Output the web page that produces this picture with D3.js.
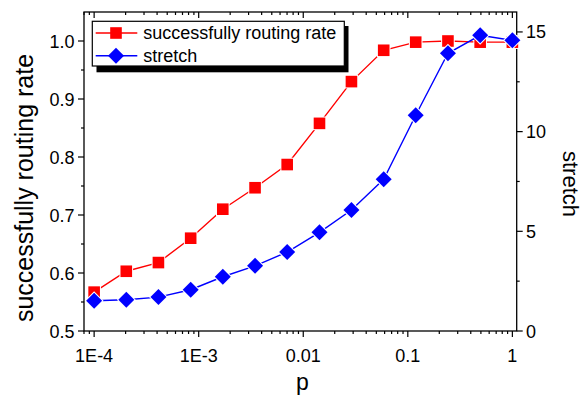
<!DOCTYPE html>
<html><head><meta charset="utf-8">
<script src="https://cdn.jsdelivr.net/npm/d3@7"></script>
<style>
html,body{margin:0;padding:0;background:#fff;}
text{font-family:"Liberation Sans",Arial,sans-serif;fill:#000;}
</style></head>
<body>
<svg id="chart" width="584" height="403"></svg>
<script>
// ---- data ----
const pValues = [1e-4, 2.03e-4, 4.12e-4, 8.38e-4, 1.70e-3, 3.46e-3, 7.02e-3, 0.0143, 0.0289, 0.0588, 0.119, 0.242, 0.492, 1];
const routingRate = [0.567, 0.603, 0.618, 0.660, 0.710, 0.747, 0.787, 0.858, 0.930, 0.984, 0.998, 1.0, 0.998, 0.998];
const stretchValues = [1.52, 1.57, 1.70, 2.07, 2.72, 3.27, 3.96, 4.95, 6.07, 7.61, 10.82, 13.93, 14.83, 14.58];
const xTickValues = [1e-4, 1e-3, 0.01, 0.1, 1];
const xTickLabels = ["1E-4", "1E-3", "0.01", "0.1", "1"];
const leftTickValues = [0.5, 0.6, 0.7, 0.8, 0.9, 1.0];
const leftTickLabels = ["0.5", "0.6", "0.7", "0.8", "0.9", "1.0"];
const leftMinorTicks = [0.55, 0.65, 0.75, 0.85, 0.95];
const rightTickValues = [0, 5, 10, 15];
const rightTickLabels = ["0", "5", "10", "15"];
const rightMinorTicks = [2.5, 7.5, 12.5];
const seriesNames = ["successfully routing rate", "stretch"];
const seriesColors = ["#ff0000", "#0000ff"];

// ---- layout ----
const L = 84, R = 516.7, T = 12, B = 331;
const svg = d3.select("#chart");
const x = d3.scaleLog().domain([8e-5, 1.1]).range([L, R]);
const yL = d3.scaleLinear().domain([0.5, 1.05]).range([B, T]);
const yR = d3.scaleLinear().domain([0, 16]).range([B, T]);

const axisColor = "#000";
const g = svg.append("g");

// frame
g.append("rect").attr("x", L).attr("y", T).attr("width", R - L).attr("height", B - T)
  .attr("fill", "none").attr("stroke", axisColor).attr("stroke-width", 1.3);

const isMajor = v => Math.abs(Math.log10(v) - Math.round(Math.log10(v))) < 1e-6;
const xAll = x.ticks().filter(v => v >= 8e-5 && v <= 1.1);

// bottom ticks (outward)
xAll.forEach(v => {
  const len = isMajor(v) ? 6 : 3;
  g.append("line").attr("x1", x(v)).attr("x2", x(v)).attr("y1", B).attr("y2", B + len)
    .attr("stroke", axisColor).attr("stroke-width", 1.2);
  g.append("line").attr("x1", x(v)).attr("x2", x(v)).attr("y1", T).attr("y2", T + len)
    .attr("stroke", axisColor).attr("stroke-width", 1.2);
});
xTickValues.forEach((v, i) => {
  g.append("text").attr("x", x(v)).attr("y", 362).attr("text-anchor", "middle")
    .attr("font-size", 18).text(xTickLabels[i]);
});

// left axis
leftTickValues.forEach((v, i) => {
  g.append("line").attr("x1", L - 6).attr("x2", L).attr("y1", yL(v)).attr("y2", yL(v))
    .attr("stroke", axisColor).attr("stroke-width", 1.2);
  g.append("text").attr("x", 74.5).attr("y", yL(v) + 6.5).attr("text-anchor", "end")
    .attr("font-size", 18).text(leftTickLabels[i]);
});
leftMinorTicks.forEach(v => {
  g.append("line").attr("x1", L - 3).attr("x2", L).attr("y1", yL(v)).attr("y2", yL(v))
    .attr("stroke", axisColor).attr("stroke-width", 1.2);
});

// right axis
rightTickValues.forEach((v, i) => {
  g.append("line").attr("x1", R).attr("x2", R + 6).attr("y1", yR(v)).attr("y2", yR(v))
    .attr("stroke", axisColor).attr("stroke-width", 1.2);
  g.append("text").attr("x", 526).attr("y", yR(v) + 6.5).attr("text-anchor", "start")
    .attr("font-size", 18).text(rightTickLabels[i]);
});
rightMinorTicks.forEach(v => {
  g.append("line").attr("x1", R).attr("x2", R + 3).attr("y1", yR(v)).attr("y2", yR(v))
    .attr("stroke", axisColor).attr("stroke-width", 1.2);
});

// axis titles
g.append("text").attr("transform", "translate(33,188) rotate(-90)").attr("text-anchor", "middle")
  .attr("font-size", 25).text("successfully routing rate");
g.append("text").attr("transform", "translate(563,184) rotate(90)").attr("text-anchor", "middle")
  .attr("font-size", 22).text("stretch");
g.append("text").attr("x", 302.5).attr("y", 390).attr("text-anchor", "middle")
  .attr("font-size", 23).text("p");

// series
const diamond = "M0,-8L8,0L0,8L-8,0Z";
const rateData = pValues.map((p, i) => [p, routingRate[i]]);
const strData = pValues.map((p, i) => [p, stretchValues[i]]);

g.append("path").datum(rateData)
  .attr("d", d3.line().x(d => x(d[0])).y(d => yL(d[1])))
  .attr("fill", "none").attr("stroke", seriesColors[0]).attr("stroke-width", 1.4);
g.selectAll(".sq").data(rateData).enter().append("rect")
  .attr("x", d => x(d[0]) - 5.8).attr("y", d => yL(d[1]) - 5.8)
  .attr("width", 11.6).attr("height", 11.6)
  .attr("fill", seriesColors[0]).attr("stroke", "#fff").attr("stroke-width", 2)
  .style("paint-order", "stroke");

g.append("path").datum(strData)
  .attr("d", d3.line().x(d => x(d[0])).y(d => yR(d[1])))
  .attr("fill", "none").attr("stroke", seriesColors[1]).attr("stroke-width", 1.4);
g.selectAll(".dm").data(strData).enter().append("path")
  .attr("d", diamond).attr("transform", d => `translate(${x(d[0])},${yR(d[1])})`)
  .attr("fill", seriesColors[1]).attr("stroke", "#fff").attr("stroke-width", 2)
  .style("paint-order", "stroke");

// legend
const lg = svg.append("g");
lg.append("rect").attr("x", 96.5).attr("y", 26).attr("width", 252).attr("height", 46.3).attr("fill", "#000");
lg.append("rect").attr("x", 92.3).attr("y", 21.3).attr("width", 252).attr("height", 44.7)
  .attr("fill", "#fff").attr("stroke", "#000").attr("stroke-width", 1.2);
const rowsY = [33, 55.7];
seriesNames.forEach((name, i) => {
  const cy = rowsY[i];
  lg.append("line").attr("x1", 95.7).attr("x2", 137.3).attr("y1", cy).attr("y2", cy)
    .attr("stroke", seriesColors[i]).attr("stroke-width", 1.4);
  if (i === 0) {
    lg.append("rect").attr("x", 116 - 5.8).attr("y", cy - 5.8).attr("width", 11.6).attr("height", 11.6)
      .attr("fill", seriesColors[0]);
  } else {
    lg.append("path").attr("d", diamond).attr("transform", `translate(116,${cy})`).attr("fill", seriesColors[1]);
  }
  lg.append("text").attr("x", 143.3).attr("y", cy + 6.3).attr("font-size", 18).text(name);
});
</script>
</body></html>
